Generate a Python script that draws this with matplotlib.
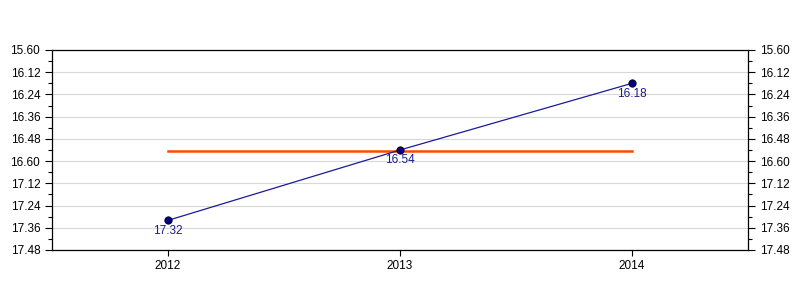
import matplotlib
matplotlib.use('Agg')
import matplotlib.pyplot as plt
from matplotlib.ticker import FuncFormatter, MultipleLocator

plt.rcParams['font.family'] = ['Liberation Sans', 'DejaVu Sans']
plt.rcParams['font.size'] = 8.5

# data: times as min.sec
years = [2012, 2013, 2014]
times = ['17.32', '16.54', '16.18']

# y axis range in min.sec
y_top = '15.60'
y_bottom = '17.48'


def to_sec(t):
    m, s = t.split('.')
    return int(m) * 60 + int(s)


def fmt(v, pos):
    v = int(round(v))
    m = (v - 1) // 60
    return f"{m}.{v - 60 * m:02d}"


secs = [to_sec(t) for t in times]
avg = sum(secs) / len(secs)

fig = plt.figure(figsize=(8, 3), dpi=100)
ax = fig.add_axes([0.065, 0.1667, 0.87, 0.6667])

ax.plot(years, secs, color='#1a1a9a', linewidth=0.9, zorder=3)
ax.scatter(years, secs, s=28, color='#000080', edgecolors='black',
           linewidths=0.6, zorder=4)
ax.plot([years[0], years[-1]], [avg, avg], color='#ff4a00', linewidth=1.8, zorder=2)

for x, y, t in zip(years, secs, times):
    ax.annotate(t, (x, y), xytext=(0, -7.5), textcoords='offset points',
                ha='center', va='center', color='#1a1a8c', fontsize=8.5, zorder=5)

ax.set_xlim(2011.5, 2014.5)
ax.set_xticks(years)
ax.set_ylim(to_sec(y_bottom), to_sec(y_top))
ax.yaxis.set_major_locator(MultipleLocator(12))
ax.yaxis.set_minor_locator(MultipleLocator(6))
ax.yaxis.set_major_formatter(FuncFormatter(fmt))
ax.tick_params(axis='y', which='both', left=True, right=True,
               labelleft=True, labelright=True, direction='out')
ax.tick_params(axis='y', which='major', length=5, width=0.8)
ax.tick_params(axis='y', which='minor', length=3, width=0.8)
ax.tick_params(axis='x', length=4, width=0.8)
ax.grid(True, axis='y', which='major', color='#d8d8d8', linewidth=0.8)
ax.set_axisbelow(True)
for sp in ax.spines.values():
    sp.set_linewidth(0.9)

plt.savefig('out.png', dpi=100)
